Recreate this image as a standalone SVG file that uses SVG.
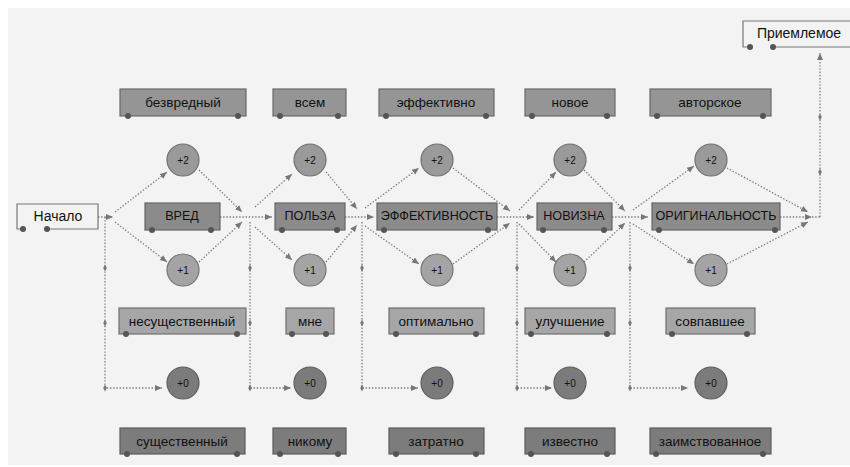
<svg xmlns="http://www.w3.org/2000/svg" width="850" height="467" viewBox="0 0 850 467">
<style>
text{font-family:"Liberation Sans",Arial,sans-serif;fill:#111;text-anchor:middle;dominant-baseline:central}
.lbl{font-size:13.5px}
.up{font-size:12.6px}
.num{font-size:10px}
.b1{fill:#959595;stroke:#6a6a6a;stroke-width:1.2}
.b2{fill:#8b8b8b;stroke:#666;stroke-width:1.2}
.b3{fill:#a6a6a6;stroke:#707070;stroke-width:1.2}
.b4{fill:#7c7c7c;stroke:#5c5c5c;stroke-width:1.2}
.c2{fill:#9a9a9a;stroke:#707070;stroke-width:1.2}
.c1{fill:#a4a4a4;stroke:#747474;stroke-width:1.2}
.c0{fill:#7b7b7b;stroke:#5e5e5e;stroke-width:1.2}
.w{fill:#555}
.open{fill:none;stroke:#777;stroke-width:1.2}
.d{fill:none;stroke:#7a7a7a;stroke-width:1.3;stroke-dasharray:1.4 1.8}
.a{marker-end:url(#ah)}
.m{marker-mid:url(#tk);marker-end:url(#ah)}
</style>
<defs>
<marker id="ah" viewBox="0 0 8 8" refX="7" refY="4" markerWidth="8" markerHeight="8" markerUnits="userSpaceOnUse" orient="auto">
<path d="M0,1 L7,4 L0,7 Z" fill="#777"/>
</marker>
<marker id="tk" viewBox="-3 -4 6 8" refX="0" refY="0" markerWidth="6" markerHeight="8" markerUnits="userSpaceOnUse" orient="0">
<path d="M0,-3.5 L1.8,0 L0,3.5 L-1.8,0 Z" fill="#777"/>
</marker>
</defs>
<rect x="0" y="0" width="850" height="467" fill="#ffffff"/>
<rect x="8" y="8" width="842" height="457" fill="#f3f3f3"/>

<g id="connectors">
<path class="d a" d="M98,217 H113"/>
<path class="d a" d="M115,212 L167,172"/>
<path class="d a" d="M115,222 L167,262"/>
<path class="d m" d="M105,217 V268 V323 V388 H162"/>
<path class="d a" d="M199,170 L242,212"/>
<path class="d a" d="M199,262 L242,222"/>
<path class="d a" d="M220,217 H272"/>
<path class="d a" d="M255,207 L292,174"/>
<path class="d a" d="M255,227 L292,260"/>
<path class="d m" d="M250,222 V268 V323 V388 H291"/>
<path class="d a" d="M326,172 L357,209"/>
<path class="d a" d="M326,262 L357,225"/>
<path class="d a" d="M345,217 H374"/>
<path class="d a" d="M365,208 L419,168"/>
<path class="d a" d="M365,226 L419,264"/>
<path class="d m" d="M362,222 V268 V323 V388 H418"/>
<path class="d a" d="M453,168 L510,211"/>
<path class="d a" d="M453,264 L510,223"/>
<path class="d a" d="M497,217 H534"/>
<path class="d a" d="M519,210 L556,172"/>
<path class="d a" d="M519,224 L556,262"/>
<path class="d m" d="M517,222 V268 V323 V388 H552"/>
<path class="d a" d="M584,170 L625,211"/>
<path class="d a" d="M584,262 L625,223"/>
<path class="d a" d="M612,217 H648"/>
<path class="d a" d="M633,210 L694,166"/>
<path class="d a" d="M633,224 L694,264"/>
<path class="d m" d="M630,222 V268 V323 V388 H688"/>
<path class="d a" d="M727,168 L808,212"/>
<path class="d a" d="M727,264 L808,222"/>
<path class="d a" d="M780,217 H812"/>
<path class="d" d="M812,217 H820"/>
<path class="d m" d="M820,217 V172 V117 V53"/>
</g>

<g id="start">
<path class="open" d="M23,229 H17 V204 H98 V229 H47"/>
<circle class="w" cx="23" cy="229" r="3"/>
<circle class="w" cx="47" cy="229" r="3"/>
<text x="58" y="216" style="font-size:14px">Начало</text>
</g>
<g id="accept">
<path class="open" d="M750,47 H743 V21 H852 M773,47 H852"/>
<circle class="w" cx="750" cy="47" r="3"/>
<circle class="w" cx="773" cy="47" r="3"/>
<text x="799" y="33" style="font-size:14px">Приемлемое</text>
</g>

<g id="n-bezvredny"><rect class="b1" x="120" y="89" width="126" height="27"/><circle class="w" cx="128" cy="116" r="3"/><circle class="w" cx="238" cy="116" r="3"/><text class="lbl" x="183" y="102">безвредный</text></g>
<g id="c1-p2"><circle class="c2" cx="183" cy="160" r="16"/><text class="num" x="183" y="160">+2</text></g>
<g id="n-vred"><rect class="b2" x="145" y="203" width="75" height="27"/><circle class="w" cx="152" cy="230" r="3"/><circle class="w" cx="211" cy="230" r="3"/><text class="up" x="182" y="216">ВРЕД</text></g>
<g id="c1-p1"><circle class="c1" cx="183" cy="270" r="16"/><text class="num" x="183" y="270">+1</text></g>
<g id="n-nesush"><rect class="b3" x="119" y="308" width="127" height="26"/><circle class="w" cx="126" cy="334" r="3"/><circle class="w" cx="237" cy="334" r="3"/><text class="lbl" x="182" y="321">несущественный</text></g>
<g id="c1-p0"><circle class="c0" cx="183" cy="383" r="16"/><text class="num" x="183" y="383">+0</text></g>
<g id="n-sush"><rect class="b4" x="120" y="428" width="125" height="26"/><circle class="w" cx="127" cy="454" r="3"/><circle class="w" cx="237" cy="454" r="3"/><text class="lbl" x="182" y="441">существенный</text></g>

<g id="n-vsem"><rect class="b1" x="273" y="89" width="73" height="27"/><circle class="w" cx="280" cy="116" r="3"/><circle class="w" cx="338" cy="116" r="3"/><text class="lbl" x="310" y="102">всем</text></g>
<g id="c2-p2"><circle class="c2" cx="310" cy="160" r="16"/><text class="num" x="310" y="160">+2</text></g>
<g id="n-polza"><rect class="b2" x="275" y="203" width="70" height="27"/><circle class="w" cx="282" cy="230" r="3"/><circle class="w" cx="337" cy="230" r="3"/><text class="up" x="310" y="216">ПОЛЬЗА</text></g>
<g id="c2-p1"><circle class="c1" cx="310" cy="270" r="16"/><text class="num" x="310" y="270">+1</text></g>
<g id="n-mne"><rect class="b3" x="286" y="308" width="48" height="26"/><circle class="w" cx="292" cy="334" r="3"/><circle class="w" cx="326" cy="334" r="3"/><text class="lbl" x="310" y="321">мне</text></g>
<g id="c2-p0"><circle class="c0" cx="310" cy="383" r="16"/><text class="num" x="310" y="383">+0</text></g>
<g id="n-nikomu"><rect class="b4" x="273" y="428" width="73" height="26"/><circle class="w" cx="280" cy="454" r="3"/><circle class="w" cx="338" cy="454" r="3"/><text class="lbl" x="310" y="441">никому</text></g>

<g id="n-effektivno"><rect class="b1" x="379" y="89" width="115" height="27"/><circle class="w" cx="386" cy="116" r="3"/><circle class="w" cx="486" cy="116" r="3"/><text class="lbl" x="436" y="102">эффективно</text></g>
<g id="c3-p2"><circle class="c2" cx="437" cy="160" r="16"/><text class="num" x="437" y="160">+2</text></g>
<g id="n-eff"><rect class="b2" x="377" y="203" width="120" height="27"/><circle class="w" cx="384" cy="230" r="3"/><circle class="w" cx="488" cy="230" r="3"/><text class="up" x="437" y="216">ЭФФЕКТИВНОСТЬ</text></g>
<g id="c3-p1"><circle class="c1" cx="437" cy="270" r="16"/><text class="num" x="437" y="270">+1</text></g>
<g id="n-optimalno"><rect class="b3" x="389" y="308" width="95" height="26"/><circle class="w" cx="396" cy="334" r="3"/><circle class="w" cx="476" cy="334" r="3"/><text class="lbl" x="436" y="321">оптимально</text></g>
<g id="c3-p0"><circle class="c0" cx="437" cy="383" r="16"/><text class="num" x="437" y="383">+0</text></g>
<g id="n-zatratno"><rect class="b4" x="389" y="428" width="95" height="26"/><circle class="w" cx="396" cy="454" r="3"/><circle class="w" cx="476" cy="454" r="3"/><text class="lbl" x="436" y="441">затратно</text></g>

<g id="n-novoe"><rect class="b1" x="525" y="89" width="90" height="27"/><circle class="w" cx="532" cy="116" r="3"/><circle class="w" cx="607" cy="116" r="3"/><text class="lbl" x="570" y="102">новое</text></g>
<g id="c4-p2"><circle class="c2" cx="570" cy="160" r="16"/><text class="num" x="570" y="160">+2</text></g>
<g id="n-novizna"><rect class="b2" x="537" y="203" width="75" height="27"/><circle class="w" cx="543" cy="230" r="3"/><circle class="w" cx="604" cy="230" r="3"/><text class="up" x="574" y="216">НОВИЗНА</text></g>
<g id="c4-p1"><circle class="c1" cx="570" cy="270" r="16"/><text class="num" x="570" y="270">+1</text></g>
<g id="n-uluchshenie"><rect class="b3" x="525" y="308" width="90" height="26"/><circle class="w" cx="531" cy="334" r="3"/><circle class="w" cx="607" cy="334" r="3"/><text class="lbl" x="570" y="321">улучшение</text></g>
<g id="c4-p0"><circle class="c0" cx="570" cy="383" r="16"/><text class="num" x="570" y="383">+0</text></g>
<g id="n-izvestno"><rect class="b4" x="525" y="428" width="90" height="26"/><circle class="w" cx="531" cy="454" r="3"/><circle class="w" cx="607" cy="454" r="3"/><text class="lbl" x="570" y="441">известно</text></g>

<g id="n-avtorskoe"><rect class="b1" x="650" y="89" width="121" height="27"/><circle class="w" cx="657" cy="116" r="3"/><circle class="w" cx="763" cy="116" r="3"/><text class="lbl" x="710" y="102">авторское</text></g>
<g id="c5-p2"><circle class="c2" cx="711" cy="160" r="16"/><text class="num" x="711" y="160">+2</text></g>
<g id="n-orig"><rect class="b2" x="652" y="203" width="128" height="27"/><circle class="w" cx="659" cy="230" r="3"/><circle class="w" cx="775" cy="230" r="3"/><text class="up" x="716" y="216">ОРИГИНАЛЬНОСТЬ</text></g>
<g id="c5-p1"><circle class="c1" cx="711" cy="270" r="16"/><text class="num" x="711" y="270">+1</text></g>
<g id="n-sovpavshee"><rect class="b3" x="666" y="308" width="89" height="26"/><circle class="w" cx="672" cy="334" r="3"/><circle class="w" cx="747" cy="334" r="3"/><text class="lbl" x="710" y="321">совпавшее</text></g>
<g id="c5-p0"><circle class="c0" cx="711" cy="383" r="16"/><text class="num" x="711" y="383">+0</text></g>
<g id="n-zaimstv"><rect class="b4" x="650" y="428" width="121" height="26"/><circle class="w" cx="656" cy="454" r="3"/><circle class="w" cx="763" cy="454" r="3"/><text class="lbl" x="710" y="441">заимствованное</text></g>
</svg>
